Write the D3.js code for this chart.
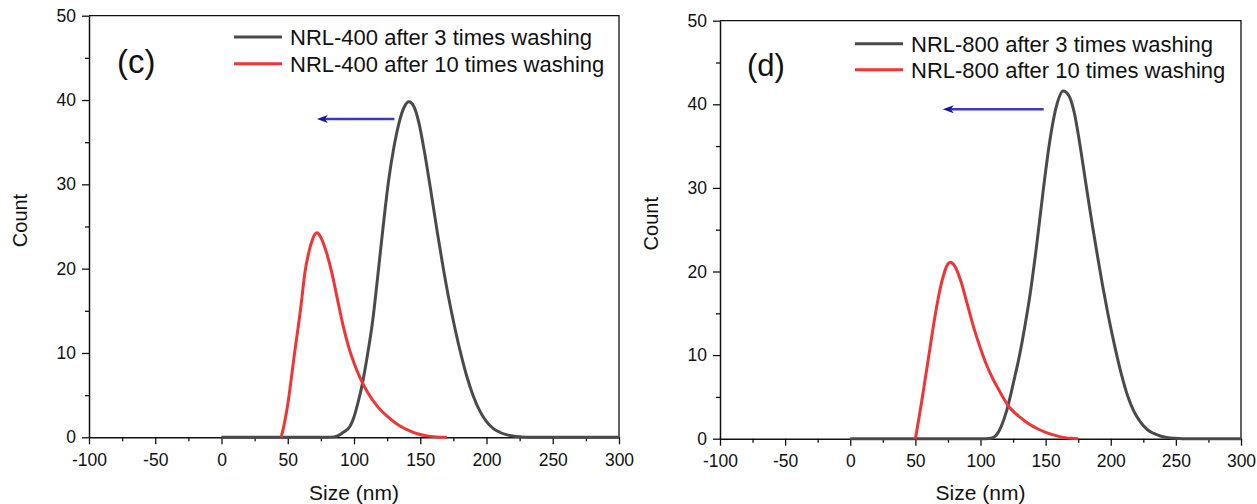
<!DOCTYPE html>
<html>
<head>
<meta charset="utf-8">
<script src="https://cdn.jsdelivr.net/npm/d3@7/dist/d3.min.js"></script>
<style>
  html, body { margin: 0; padding: 0; background: #fff; }
  svg { display: block; }
  text { font-family: "Liberation Sans", Arial, sans-serif; fill: #111; }
</style>
</head>
<body>
<svg id="chart" width="1257" height="504"></svg>
<script>
// Axis ticks shared by both panels
const xMajorTicks = [-100, -50, 0, 50, 100, 150, 200, 250, 300];
const xMinorTicks = [-75, -25, 25, 75, 125, 175, 225, 275];
const yMajorTicks = [0, 10, 20, 30, 40, 50];
const yMinorTicks = [5, 15, 25, 35, 45];

// Panel (c): NRL-400
const sizes400w3  = [0, 80, 85, 88, 92, 97, 100, 103, 106, 110, 114, 118, 122, 126, 130, 134, 138, 141.4, 145, 149, 153, 158, 163, 167, 171, 175, 180, 185, 190, 195, 200, 205, 210, 215, 220, 226, 232, 300];
const counts400w3 = [0, 0, 0.05, 0.2, 0.6, 1.3, 2.4, 4.1, 6.1, 9.6, 13.7, 19.2, 25.0, 30.3, 34.3, 37.3, 39.2, 39.8, 39.3, 37.3, 34.0, 29.2, 24.2, 20.4, 16.9, 13.8, 10.3, 7.3, 4.9, 3.1, 1.85, 1.05, 0.6, 0.32, 0.15, 0.05, 0, 0];
const sizes400w10  = [45, 47, 50, 55, 60, 63, 66, 69, 72, 75, 78, 80, 84, 88, 92, 96, 100, 105, 110, 117.5, 125, 132.6, 140, 147.7, 155, 162, 170];
const counts400w10 = [0, 1.3, 3.9, 9.8, 15.6, 19.6, 22.0, 23.6, 24.25, 23.7, 22.5, 21.5, 19.0, 16.0, 13.1, 10.7, 8.8, 6.9, 5.4, 3.7, 2.5, 1.54, 0.9, 0.42, 0.17, 0.05, 0];

// Panel (d): NRL-800
const sizes800w3  = [0, 104, 108, 112, 116, 120, 125, 130, 134, 138, 143, 148, 153, 158, 163.6, 168, 172, 176, 181, 186, 190, 194, 198, 203, 208, 213, 218, 223, 228, 233, 238, 243, 249, 255, 300];
const counts800w3 = [0, 0, 0.05, 0.4, 1.5, 3.3, 6.5, 10.0, 13.4, 17.2, 23.0, 29.5, 35.4, 39.6, 41.6, 41.0, 39.0, 35.5, 30.4, 25.4, 21.7, 18.1, 14.8, 11.1, 7.8, 5.1, 3.2, 1.95, 1.1, 0.63, 0.33, 0.16, 0.05, 0, 0];
const sizes800w10  = [50, 52, 55, 57.4, 60, 65, 70, 75, 77, 80, 85, 90, 95, 100, 105, 110, 115, 121, 125, 130, 135, 140, 145, 150, 155, 160, 165, 170, 175];
const counts800w10 = [0, 1.8, 4.6, 7.0, 9.6, 14.6, 18.6, 20.9, 21.1, 20.7, 18.8, 16.0, 13.2, 10.8, 8.7, 7.0, 5.6, 4.0, 3.3, 2.6, 2.0, 1.5, 1.1, 0.75, 0.5, 0.28, 0.13, 0.04, 0];

const legend400 = ["NRL-400 after 3 times washing", "NRL-400 after 10 times washing"];
const legend800 = ["NRL-800 after 3 times washing", "NRL-800 after 10 times washing"];
const xDomain = [-100, 300];
const yDomain = [0, 50];

const svg = d3.select("#chart");
const BLACK = "#4a4a4a", RED = "#ef3535", BLUE = "#3a3abc", BLUE_HEAD = "#1616a6";

function drawPanel(p) {
  const x = d3.scaleLinear().domain(xDomain).range([p.left, p.right]);
  const y = d3.scaleLinear().domain(yDomain).range([p.bottom, p.top]);
  const g = svg.append("g");

  // frame on top and right
  g.append("path")
    .attr("d", `M${p.left},${p.top}H${p.right}V${p.bottom}`)
    .attr("fill", "none").attr("stroke", "#111").attr("stroke-width", 1.3);

  // minor ticks
  g.append("g").attr("transform", `translate(0,${p.bottom})`)
    .call(d3.axisBottom(x).tickValues(xMinorTicks).tickSize(4).tickFormat(""))
    .call(a => a.select(".domain").remove());
  g.append("g").attr("transform", `translate(${p.left},0)`)
    .call(d3.axisLeft(y).tickValues(yMinorTicks).tickSize(4).tickFormat(""))
    .call(a => a.select(".domain").remove());

  // major ticks and labels (plain hyphen for negatives)
  const fmt = d => String(d);
  const xa = g.append("g").attr("transform", `translate(0,${p.bottom})`)
    .call(d3.axisBottom(x).tickValues(xMajorTicks).tickSize(7).tickSizeOuter(0).tickPadding(9).tickFormat(fmt));
  const ya = g.append("g").attr("transform", `translate(${p.left},0)`)
    .call(d3.axisLeft(y).tickValues(yMajorTicks).tickSize(7).tickSizeOuter(0).tickPadding(6).tickFormat(fmt));
  [xa, ya].forEach(a => {
    a.selectAll("text").attr("font-size", 17.5).attr("font-family", "Liberation Sans, Arial, sans-serif").attr("fill", "#111");
    a.select(".domain").attr("stroke", "#111").attr("stroke-width", 1.5);
  });
  g.selectAll(".tick line").attr("stroke", "#111").attr("stroke-width", 1.3);

  // axis titles
  g.append("text").attr("x", (p.left + p.right) / 2).attr("y", 500)
    .attr("text-anchor", "middle").attr("font-size", 21).text("Size (nm)");
  g.append("text")
    .attr("transform", `translate(${p.left - 62},${(p.top + p.bottom) / 2 - 6}) rotate(-90)`)
    .attr("text-anchor", "middle").attr("font-size", 20).text("Count");

  // distribution curves
  const line = d3.line().x(d => x(d[0])).y(d => y(d[1])).curve(d3.curveMonotoneX);
  const series = [
    { sizes: p.sizes3, counts: p.counts3, color: BLACK },
    { sizes: p.sizes10, counts: p.counts10, color: RED }
  ];
  series.forEach(s => {
    g.append("path")
      .datum(d3.zip(s.sizes, s.counts))
      .attr("d", line)
      .attr("fill", "none").attr("stroke", s.color)
      .attr("stroke-width", 3).attr("stroke-linejoin", "round");
  });

  // shift arrow
  const ay = p.arrowY;
  g.append("line")
    .attr("x1", x(p.arrowFrom)).attr("x2", x(p.arrowTo) + 8)
    .attr("y1", ay).attr("y2", ay)
    .attr("stroke", BLUE).attr("stroke-width", 2.4);
  const hx = x(p.arrowTo);
  g.append("path")
    .attr("d", `M${hx},${ay}L${hx + 11},${ay - 4}L${hx + 8},${ay}L${hx + 11},${ay + 4}Z`)
    .attr("fill", BLUE_HEAD);

  // legend
  p.legend.forEach((label, i) => {
    const ly = p.legendY + i * p.legendGap;
    g.append("line")
      .attr("x1", p.legendX).attr("x2", p.legendX + 48)
      .attr("y1", ly).attr("y2", ly)
      .attr("stroke", i === 0 ? BLACK : RED).attr("stroke-width", 3);
    g.append("text").attr("x", p.legendX + 56).attr("y", ly + 8)
      .attr("font-size", 22).text(label);
  });

  // panel tag
  g.append("text").attr("x", p.tagX).attr("y", p.tagY)
    .attr("font-size", p.tagSize).attr("font-family", p.tagFont).text(p.tag);
}

drawPanel({
  left: 89, right: 619, top: 15.7, bottom: 437.3,
  sizes3: sizes400w3, counts3: counts400w3,
  sizes10: sizes400w10, counts10: counts400w10,
  arrowFrom: 130.5, arrowTo: 72, arrowY: 119,
  legend: legend400, legendX: 234, legendY: 37, legendGap: 26.7,
  tag: "(c)", tagX: 117, tagY: 73, tagSize: 33, tagFont: "Lato, 'Open Sans', sans-serif"
});

drawPanel({
  left: 720, right: 1241, top: 20.7, bottom: 438.7,
  sizes3: sizes800w3, counts3: counts800w3,
  sizes10: sizes800w10, counts10: counts800w10,
  arrowFrom: 148.5, arrowTo: 71, arrowY: 109.3,
  legend: legend800, legendX: 855, legendY: 43.7, legendGap: 26,
  tag: "(d)", tagX: 747, tagY: 76, tagSize: 31, tagFont: "Liberation Sans, Arial, sans-serif"
});
</script>
</body>
</html>
